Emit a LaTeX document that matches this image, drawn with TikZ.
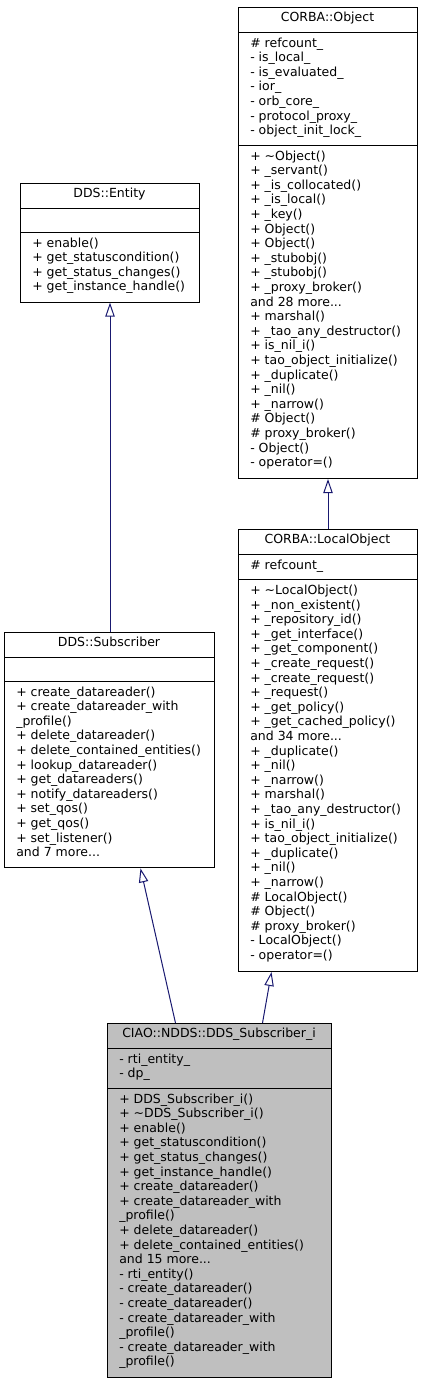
\documentclass[tikz,border=0pt]{standalone}
\usepackage{fontspec}
\setmainfont{DejaVu Sans}
\usetikzlibrary{arrows.meta}
\definecolor{edgeblue}{HTML}{191970}
\definecolor{boxgray}{HTML}{BFBFBF}
\newcommand\umlfont{\fontsize{9.375pt}{10.95pt}\selectfont}
\tikzset{
  umlbox/.style={draw=black, line width=0.75pt, fill=white, inner sep=0pt, anchor=north west},
  sepline/.style={draw=black, line width=0.75pt},
  ttl/.style={anchor=base, inner sep=0pt, font=\umlfont},
  mem/.style={anchor=north west, inner sep=0pt, align=left, font=\umlfont},
  inh/.style={draw=edgeblue, line width=0.75pt, -{Triangle[open, length=10.5pt, width=7pt]}},
}
\begin{document}
\begin{tikzpicture}[x=0.75pt,y=-0.75pt]
\useasboundingbox (0,0) rectangle (423,1384);

% CORBA::Object
\node[umlbox, minimum width={179*0.75pt}, minimum height={471*0.75pt}] (obj) at (238,7) {};
\draw[sepline] (238,32.5) -- (417,32.5);
\draw[sepline] (238,145.5) -- (417,145.5);
\node[ttl] (objT) at (327.5,21.4) {CORBA::Object};
\node[mem] (objA) at (250,36.68) {\strut\# refcount\_\\\strut- is\_local\_\\\strut- is\_evaluated\_\\\strut- ior\_\\\strut- orb\_core\_\\\strut- protocol\_proxy\_\\\strut- object\_init\_lock\_};
\node[mem] (objM) at (250,149.68) {\strut+ \textasciitilde Object()\\\strut+ \_servant()\\\strut+ \_is\_collocated()\\\strut+ \_is\_local()\\\strut+ \_key()\\\strut+ Object()\\\strut+ Object()\\\strut+ \_stubobj()\\\strut+ \_stubobj()\\\strut+ \_proxy\_broker()\\\strut and 28 more...\\\strut+ marshal()\\\strut+ \_tao\_any\_destructor()\\\strut+ is\_nil\_i()\\\strut+ tao\_object\_initialize()\\\strut+ \_duplicate()\\\strut+ \_nil()\\\strut+ \_narrow()\\\strut\# Object()\\\strut\# proxy\_broker()\\\strut- Object()\\\strut- operator=()};

% CORBA::LocalObject
\node[umlbox, minimum width={179*0.75pt}, minimum height={442*0.75pt}] (loc) at (238,529) {};
\draw[sepline] (238,554.4) -- (417,554.4);
\draw[sepline] (238,579.8) -- (417,579.8);
\node[ttl] (locT) at (327.5,543.4) {CORBA::LocalObject};
\node[mem] (locA) at (250,558.58) {\strut\# refcount\_};
\node[mem] (locM) at (250,583.98) {\strut+ \textasciitilde LocalObject()\\\strut+ \_non\_existent()\\\strut+ \_repository\_id()\\\strut+ \_get\_interface()\\\strut+ \_get\_component()\\\strut+ \_create\_request()\\\strut+ \_create\_request()\\\strut+ \_request()\\\strut+ \_get\_policy()\\\strut+ \_get\_cached\_policy()\\\strut and 34 more...\\\strut+ \_duplicate()\\\strut+ \_nil()\\\strut+ \_narrow()\\\strut+ marshal()\\\strut+ \_tao\_any\_destructor()\\\strut+ is\_nil\_i()\\\strut+ tao\_object\_initialize()\\\strut+ \_duplicate()\\\strut+ \_nil()\\\strut+ \_narrow()\\\strut\# LocalObject()\\\strut\# Object()\\\strut\# proxy\_broker()\\\strut- LocalObject()\\\strut- operator=()};

% DDS::Entity
\node[umlbox, minimum width={179*0.75pt}, minimum height={118.6*0.75pt}] (ent) at (20,183) {};
\draw[sepline] (20,208.4) -- (199,208.4);
\draw[sepline] (20,232.4) -- (199,232.4);
\node[ttl] (entT) at (109.5,197.4) {DDS::Entity};
\node[mem] (entM) at (32,236.58) {\strut+ enable()\\\strut+ get\_statuscondition()\\\strut+ get\_status\_changes()\\\strut+ get\_instance\_handle()};

% DDS::Subscriber
\node[umlbox, minimum width={210*0.75pt}, minimum height={235.4*0.75pt}] (sub) at (4,632) {};
\draw[sepline] (4,657.4) -- (214,657.4);
\draw[sepline] (4,681.4) -- (214,681.4);
\node[ttl] (subT) at (109,646.4) {DDS::Subscriber};
\node[mem] (subM) at (16,685.58) {\strut+ create\_datareader()\\\strut+ create\_datareader\_with\\\strut\_profile()\\\strut+ delete\_datareader()\\\strut+ delete\_contained\_entities()\\\strut+ lookup\_datareader()\\\strut+ get\_datareaders()\\\strut+ notify\_datareaders()\\\strut+ set\_qos()\\\strut+ get\_qos()\\\strut+ set\_listener()\\\strut and 7 more...};

% CIAO::NDDS::DDS_Subscriber_i
\node[umlbox, fill=boxgray, minimum width={224*0.75pt}, minimum height={353.6*0.75pt}] (ciao) at (107,1023) {};
\draw[sepline] (107,1048.4) -- (331,1048.4);
\draw[sepline] (107,1088.4) -- (331,1088.4);
\node[ttl] (ciaoT) at (219,1037.4) {CIAO::NDDS::DDS\_Subscriber\_i};
\node[mem] (ciaoA) at (119,1052.58) {\strut- rti\_entity\_\\\strut- dp\_};
\node[mem] (ciaoM) at (119,1092.58) {\strut+ DDS\_Subscriber\_i()\\\strut+ \textasciitilde DDS\_Subscriber\_i()\\\strut+ enable()\\\strut+ get\_statuscondition()\\\strut+ get\_status\_changes()\\\strut+ get\_instance\_handle()\\\strut+ create\_datareader()\\\strut+ create\_datareader\_with\\\strut\_profile()\\\strut+ delete\_datareader()\\\strut+ delete\_contained\_entities()\\\strut and 15 more...\\\strut- rti\_entity()\\\strut- create\_datareader()\\\strut- create\_datareader()\\\strut- create\_datareader\_with\\\strut\_profile()\\\strut- create\_datareader\_with\\\strut\_profile()};

% inheritance connectors
\draw[inh] (ent.south |- sub.north) -- (ent.south);
\draw[inh] (loc.north) -- (obj.south);
\draw[inh] ([xshift={-44*0.75pt}]ciao.north) -- ([xshift={31*0.75pt}]sub.south);
\draw[inh] ([xshift={43*0.75pt}]ciao.north) -- ([xshift={-56.5*0.75pt}]loc.south);
\end{tikzpicture}
\end{document}
